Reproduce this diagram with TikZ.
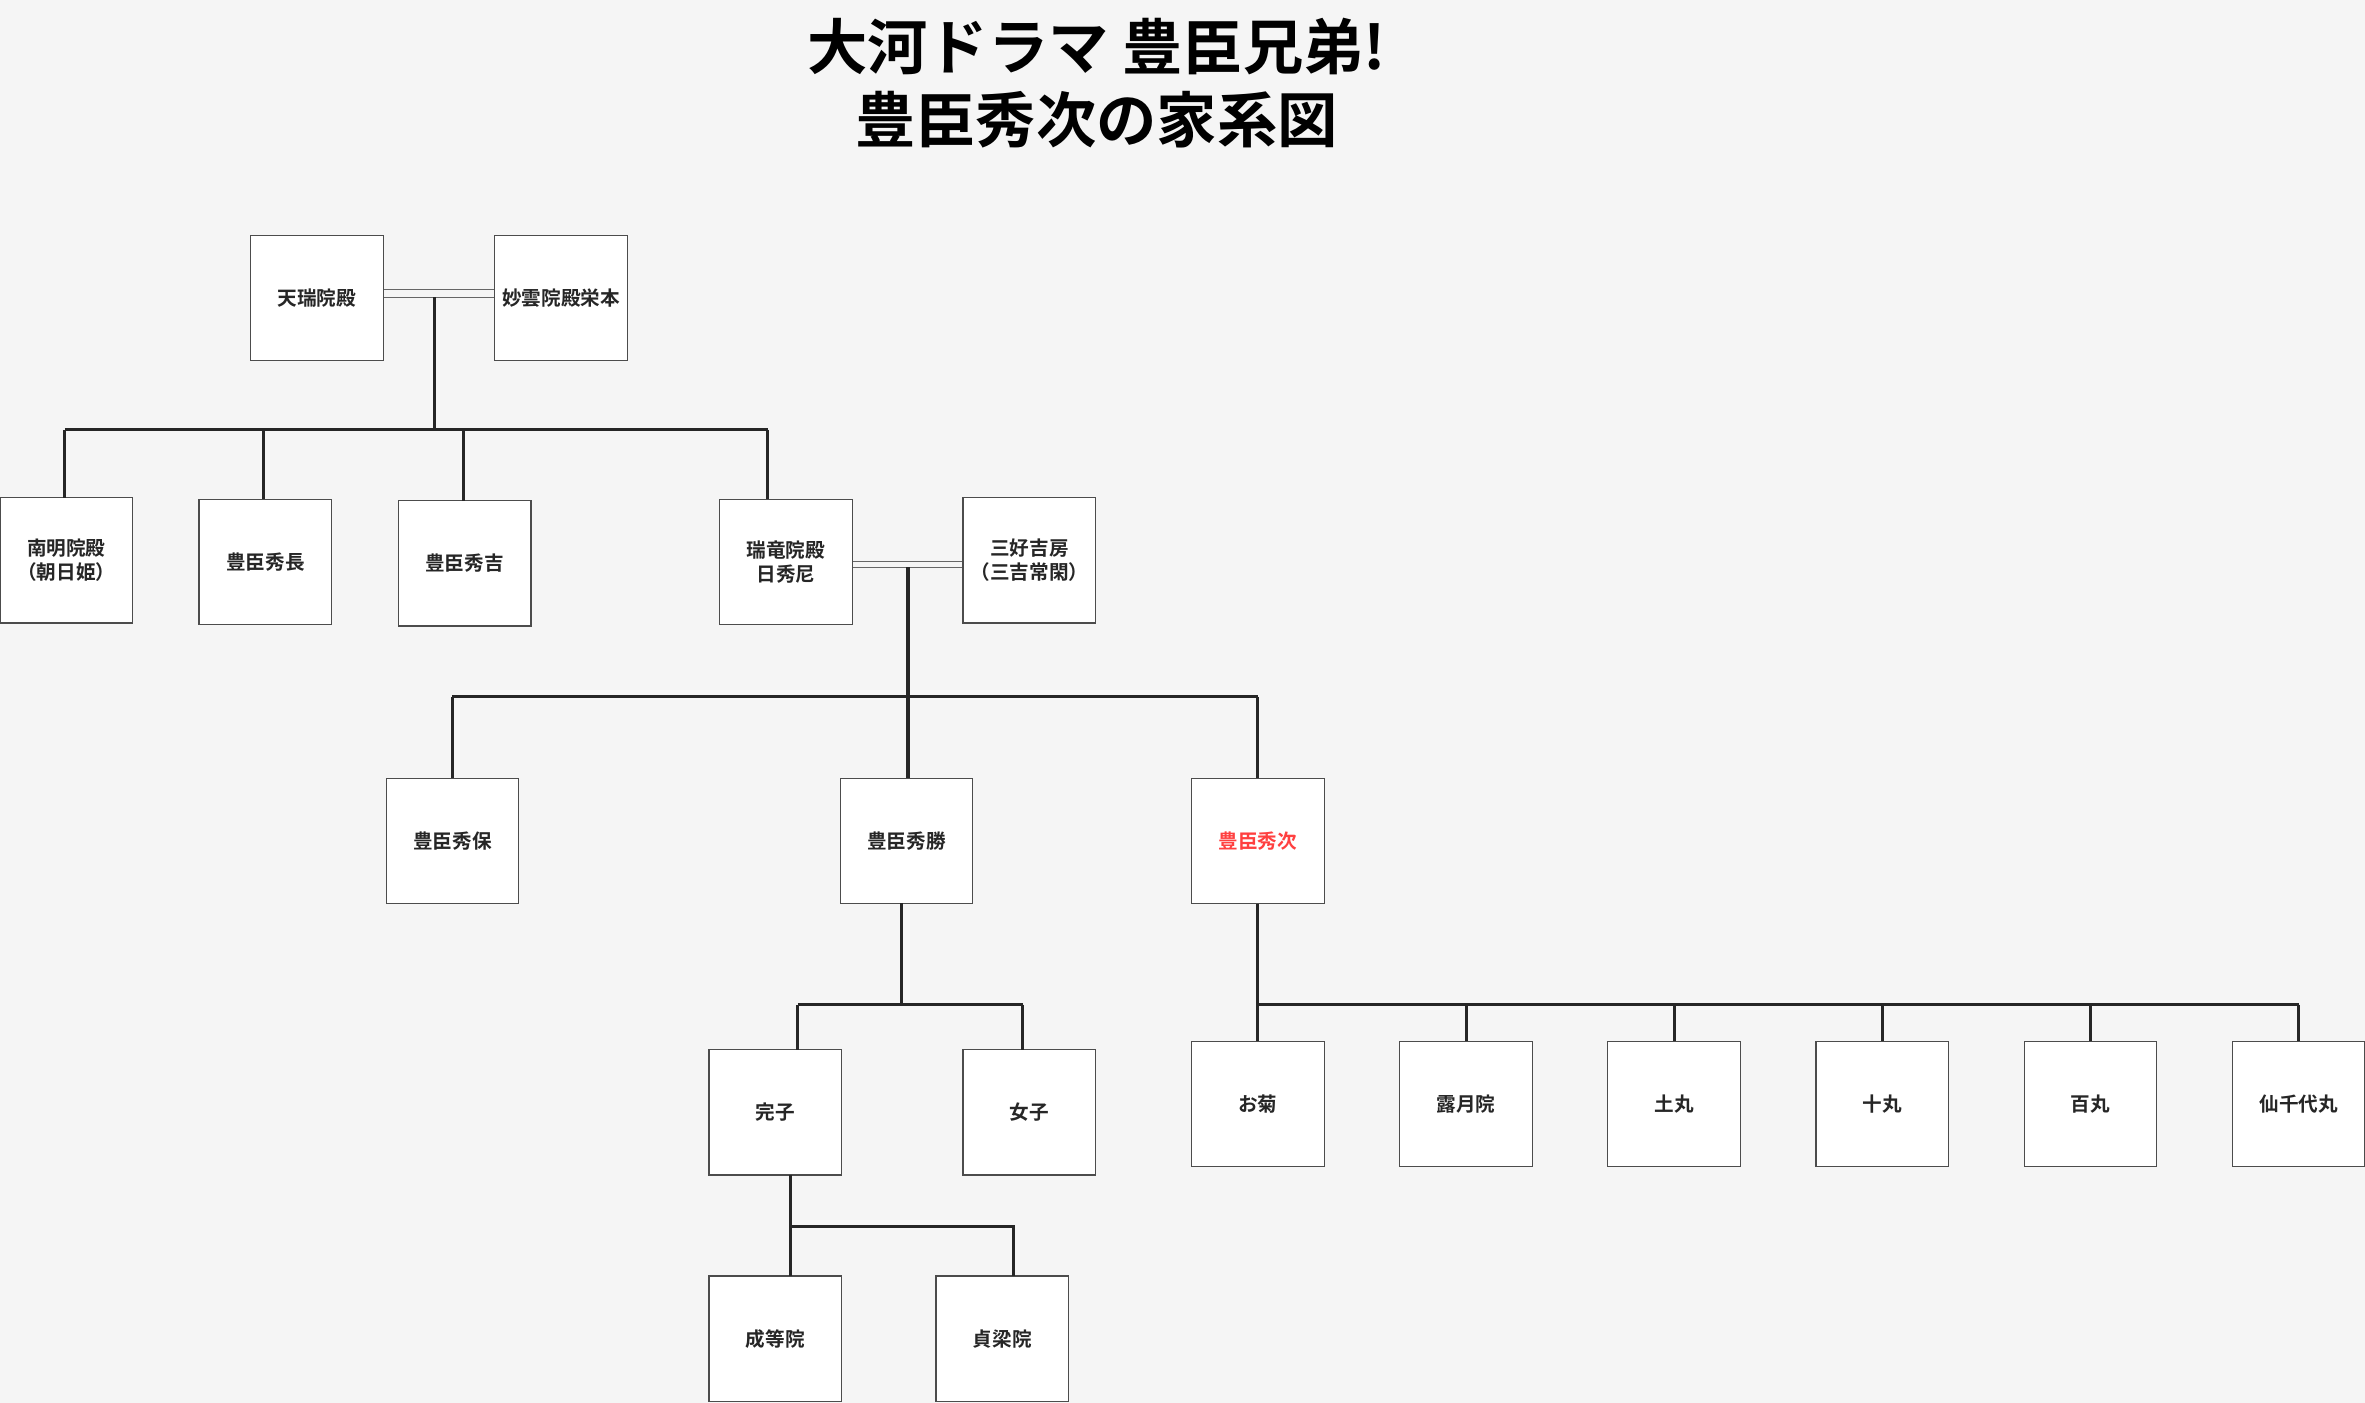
\documentclass[tikz,border=0pt]{standalone}
\usepackage{fontspec}
\setmainfont{Noto Sans CJK JP}[BoldFont={* Bold}]
\begin{document}
\begin{tikzpicture}[x=0.5pt,y=-0.5pt,
  box/.style={draw=black!70,line width=0.4pt,fill=white,minimum width=44pt,minimum height=41.5pt,inner sep=0pt,align=center,font=\fontsize{6.5}{8}\selectfont\bfseries,text=black!85},
  ln/.style={line width=1pt,black!85},
  dbl/.style={draw=black!60,line width=0.3pt}]
\fill[black!4] (0,0) rectangle (1568,930);
\useasboundingbox (0,0) rectangle (1568,930);
\node[font=\fontsize{20}{24}\selectfont\bfseries,align=center] (title) at (727,55) {大河ドラマ 豊臣兄弟!\\豊臣秀次の家系図};
\node[box] (tenzui) at (210,197.5) {天瑞院殿};
\node[box] (myoun) at (372,197.5) {妙雲院殿栄本};
\node[box] (nanmei) at (44,371.5) {南明院殿\\（朝日姫）};
\node[box] (hidenaga) at (176,372.5) {豊臣秀長};
\node[box] (hideyoshi) at (308,373.5) {豊臣秀吉};
\node[box] (zuiryu) at (521,372.5) {瑞竜院殿\\日秀尼};
\node[box] (miyoshi) at (682.5,371.5) {三好吉房\\（三吉常閑）};
\node[box] (hideyasu) at (300,557.5) {豊臣秀保};
\node[box] (hidekatsu) at (601,557.5) {豊臣秀勝};
\node[box,text=red!75] (hidetsugu) at (834,557.5) {豊臣秀次};
\node[box] (sadako) at (514,737.5) {完子};
\node[box] (joshi) at (682.5,737.5) {女子};
\node[box] (seito) at (514,887.5) {成等院};
\node[box] (teiryo) at (664.5,887.5) {貞梁院};
\node[box] (okiku) at (834,732) {お菊};
\node[box] (rogetsu) at (972,732) {露月院};
\node[box] (tsuchi) at (1110,732) {土丸};
\node[box] (ju) at (1248,732) {十丸};
\node[box] (hyaku) at (1386,732) {百丸};
\node[box] (senchiyo) at (1524,732) {仙千代丸};
% marriages
\draw[dbl] (tenzui.east|-0,192) -- (myoun.west|-0,192);
\draw[dbl] (tenzui.east|-0,197) -- (myoun.west|-0,197);
\draw[dbl] (zuiryu.east|-0,372) -- (miyoshi.west|-0,372);
\draw[dbl] (zuiryu.east|-0,376) -- (miyoshi.west|-0,376);
\coordinate (m1) at (288,197);
\coordinate (m2) at (602,376);
% gen 1
\draw[ln] (m1) -- (288,285);
\draw[ln] (43,285) -- (509,285);
\draw[ln] (43,285) -- (43,330);
\draw[ln] (175,285) -- (175,331);
\draw[ln] (307,285) -- (307,332);
\draw[ln] (509,285) -- (509,331);
% gen 2
\draw[ln] (m2) -- (602,516);
\draw[ln] (300,462) -- (834,462);
\draw[ln] (300,462) -- (hideyasu.north);
\draw[ln] (834,462) -- (hidetsugu.north);
% hidekatsu children
\draw[ln] (598,599) -- (598,666);
\draw[ln] (529,666) -- (678,666);
\draw[ln] (529,666) -- (529,696);
\draw[ln] (678,666) -- (678,696);
\draw[ln] (524,779) -- (524,846);
\draw[ln] (524,813) -- (672,813) -- (672,846);
% hidetsugu children
\draw[ln] (hidetsugu.south) -- (okiku.north);
\draw[ln] (834,666) -- (1524,666);
\foreach \n/\x in {rogetsu/972,tsuchi/1110,ju/1248,hyaku/1386,senchiyo/1524}
  \draw[ln] (\x,666) -- (\n.north);
\end{tikzpicture}
\end{document}
